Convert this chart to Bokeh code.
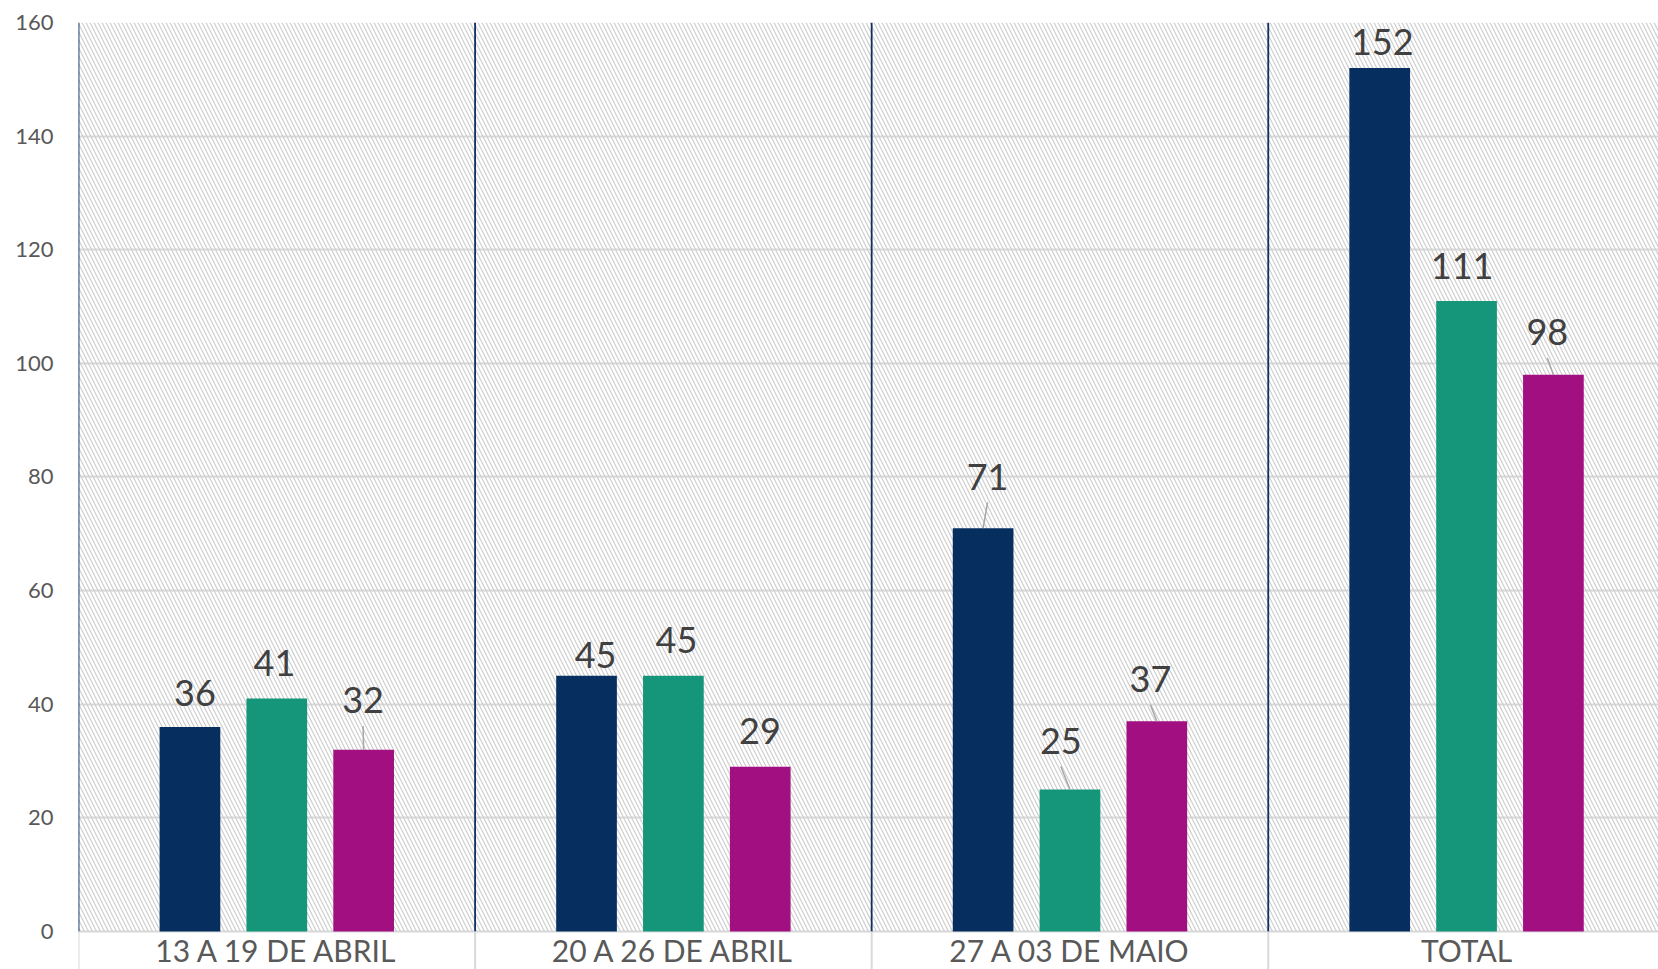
from bokeh.plotting import figure
from bokeh.models import ColumnDataSource, FixedTicker, Grid, Range1d
from bokeh.core.properties import value
from bokeh.embed import file_html
from bokeh.resources import INLINE

# ---------------- data ----------------
categories = ["13 A 19 DE ABRIL", "20 A 26 DE ABRIL", "27 A 03 DE MAIO", "TOTAL"]
series_names = ["Série 1", "Série 2", "Série 3"]
serie1 = [36, 45, 71, 152]
serie2 = [41, 45, 25, 111]
serie3 = [32, 29, 37, 98]
y_ticks = [0, 20, 40, 60, 80, 100, 120, 140, 160]

# ---------------- style / layout ----------------
colors = ["#062E5F", "#15957A", "#A20F81"]
bar_offsets = [-0.219, 0.0, 0.219]
bar_width = 0.153
# data-label offsets (px) relative to the top centre of each bar, and leader flags
label_dx = [[5, 9, 4.5, 2.6], [-2.3, 3.1, -9.2, -4.4], [-0.6, -0.3, -6.4, -6.1]]
label_dy = [[-20.5, -7.5, -38.3, -13.2], [-23, -22.7, -35.7, -22.1], [-36.3, -23, -29.1, -29.3]]
leaders = [[False, False, True, False], [False, False, True, False], [True, False, True, True]]
BASELINE_FIX = -13  # renderer baseline compensation (px)

FONT = "Lato"
W, H = 1658, 969
BORDER_LEFT, BORDER_TOP = 78, 22
X_END = 3.984
Y_MIN, Y_MAX = -6.69, 160

p = figure(width=W, height=H, output_backend="svg", toolbar_location=None,
           x_range=Range1d(0, X_END), y_range=Range1d(Y_MIN, Y_MAX),
           min_border_left=BORDER_LEFT, min_border_top=BORDER_TOP,
           min_border_right=0, min_border_bottom=0)
p.outline_line_color = None
p.background_fill_color = "white"
p.border_fill_color = "white"
p.xgrid.visible = False
p.ygrid.visible = False
p.xaxis.visible = False

px_x = (W - BORDER_LEFT) / X_END
px_y = (H - BORDER_TOP) / (Y_MAX - Y_MIN)

# y axis
ya = p.yaxis[0]
ya.ticker = FixedTicker(ticks=y_ticks)
ya.axis_line_color = None
ya.major_tick_line_color = None
ya.minor_tick_line_color = None
ya.major_label_standoff = 19
ya.major_label_text_font = FONT
ya.major_label_text_font_size = "22px"
ya.major_label_text_color = "#595959"

# horizontal gridlines
hg = Grid(dimension=1, ticker=FixedTicker(ticks=y_ticks), grid_line_color="#d9d9d9",
          grid_line_width=2)
p.add_layout(hg, "center")

# hatched plot background
ncat = len(categories)
p.quad(left=[0], right=[ncat], bottom=[0], top=[Y_MAX], fill_alpha=0, line_color=None,
       hatch_pattern="\\", hatch_color="#cdcdcd", hatch_scale=8, hatch_weight=1.2)

# category separators: navy inside the plot, grey below the axis
seps = list(range(ncat + 1))
p.segment(x0=seps, y0=[0] * len(seps), x1=seps, y1=[Y_MAX] * len(seps),
          line_color="#0E2F63", line_width=1.8)
p.segment(x0=seps, y0=[Y_MIN - 5] * len(seps), x1=seps, y1=[0] * len(seps),
          line_color="#d9d9d9", line_width=2)

all_series = [serie1, serie2, serie3]
for i, vals in enumerate(all_series):
    xs = [c + 0.5 + bar_offsets[i] for c in range(ncat)]
    src = ColumnDataSource(dict(x=xs, top=vals, lab=[str(v) for v in vals],
                                dx=label_dx[i], dy=[d + BASELINE_FIX for d in label_dy[i]]))
    p.vbar(x="x", top="top", bottom=0, width=bar_width, source=src,
           fill_color=colors[i], line_color=None)
    p.text(x="x", y="top", text="lab", x_offset="dx", y_offset="dy", source=src,
           text_align="center", text_baseline="alphabetic",
           text_font=value(FONT), text_font_size="36px", text_color="#404040")
    lx0, ly0, lx1, ly1 = [], [], [], []
    for c in range(ncat):
        if leaders[i][c]:
            lx0.append(xs[c])
            ly0.append(vals[c])
            lx1.append(xs[c] + label_dx[i][c] / px_x)
            ly1.append(vals[c] - (label_dy[i][c] + 12.5) / px_y)
    if lx0:
        p.segment(x0=lx0, y0=ly0, x1=lx1, y1=ly1, line_color="#a6a6a6", line_width=1.5)

# category labels
cat_src = ColumnDataSource(dict(x=[c + 0.5 for c in range(ncat)], y=[0] * ncat, t=categories))
p.text(x="x", y="y", text="t", source=cat_src, y_offset=19,
       text_align="center", text_baseline="alphabetic",
       text_font=value(FONT), text_font_size="30px", text_color="#595959")

open("out.html", "w").write(file_html(p, INLINE))
